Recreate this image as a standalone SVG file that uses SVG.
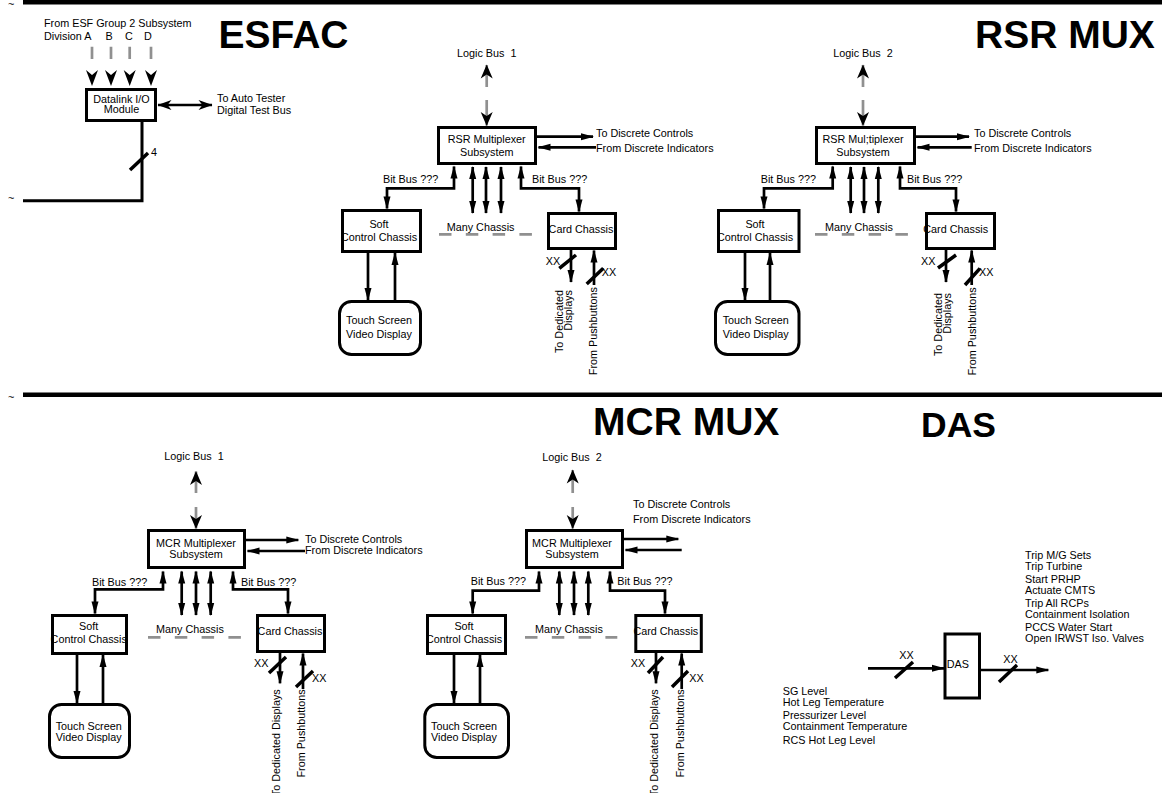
<svg xmlns="http://www.w3.org/2000/svg" width="1162" height="793" viewBox="0 0 1162 793">
<style>
.t{font-family:"Liberation Sans",Arial,Helvetica,sans-serif;font-size:10.8px;fill:#000}
.m{text-anchor:middle}
.e{text-anchor:end}
.h{font-family:"Liberation Sans",Arial,Helvetica,sans-serif;font-weight:bold;font-size:39px;fill:#000}
.box{fill:#fff;stroke:#000;stroke-width:3}
.c{fill:none;stroke:#000;stroke-width:2.7}
.g{fill:none;stroke:#909090;stroke-width:2.7}
.gd{fill:none;stroke:#909090;stroke-width:2.7;stroke-dasharray:12.5 14.3}
.sl{stroke:#000;stroke-width:3.5;fill:none}
.ae{marker-end:url(#a)}
.ab{marker-start:url(#a);marker-end:url(#a)}
.de{marker-end:url(#d)}
.db{marker-start:url(#d2);marker-end:url(#d2)}
</style>
<defs>
<marker id="a" markerUnits="userSpaceOnUse" markerWidth="14" markerHeight="8" refX="12" refY="3.5" orient="auto-start-reverse" overflow="visible"><path d="M0,0 L13,3.5 L0,7 z" fill="#000"/></marker>
<marker id="d" markerUnits="userSpaceOnUse" markerWidth="15" markerHeight="13" refX="13.5" refY="6" orient="auto-start-reverse" overflow="visible"><path d="M0,0 L14,6 L0,12 L4,6 z" fill="#000"/></marker>
<marker id="d2" markerUnits="userSpaceOnUse" markerWidth="15" markerHeight="11" refX="13.5" refY="5" orient="auto-start-reverse" overflow="visible"><path d="M0,0 L14,5 L0,10 L4,5 z" fill="#000"/></marker>
</defs>
<rect width="1162" height="793" fill="#fff"/>

<g id="frame">
<rect x="23" y="0" width="1139" height="4.5" fill="#000"/>
<rect x="23" y="392.5" width="1139" height="4.5" fill="#000"/>
<text class="t" x="8" y="8">~</text>
<text class="t" x="8" y="202">~</text>
<text class="t" x="8" y="401">~</text>
<text class="h" x="218.5" y="48">ESFAC</text>
<text class="h" x="975" y="47.5">RSR MUX</text>
<text class="h" x="593" y="435">MCR MUX</text>
<text class="h" x="921" y="436.7" style="font-size:35.5px">DAS</text>
</g>

<g id="connectors">
<!-- ESFAC -->
<path class="c" d="M142,122 V200.7 H23" style="stroke-width:3"/>
<path class="g" d="M92,46.7 V59 M111,46.7 V59 M129.7,46.7 V59 M151,46.7 V59"/>
<path d="M86,70 L92,86 L98,70 L92,75 z M105,70 L111,86 L117,70 L111,75 z M123.7,70 L129.7,86 L135.7,70 L129.7,75 z M145,70 L151,86 L157,70 L151,75 z" fill="#000"/>
<path class="c db" d="M158,105 H212"/>
<path class="sl" d="M130,170 L148,153"/>

<!-- RSR 1 -->
<path class="g de" d="M486.7,87 V65"/>
<path class="g de" d="M486.7,100 V125.5"/>
<path class="c ae" d="M537,136.7 H593"/>
<path class="c ae" d="M596,147.3 H538.5"/>
<path class="c ab" d="M454,166.5 V188.3 H387 V208.5"/>
<path class="c ab" d="M521,166.5 V188.3 H579 V211.5"/>
<path class="c ab" d="M472.7,167 V213"/>
<path class="c ab" d="M486,167 V213"/>
<path class="c ab" d="M501,167 V213"/>
<path class="c ae" d="M368,253 V300"/>
<path class="c ae" d="M395,300 V253"/>
<path class="c ae" d="M571,250 V282"/>
<path class="c ae" d="M594,285 V250.5"/>
<path class="sl" d="M559.3,268.3 L576,255 M586.7,284 L603.3,268.3"/>
<path class="gd" d="M439,234.3 H532"/>

<!-- RSR 2 -->
<path class="g de" d="M863,87 V65"/>
<path class="g de" d="M863,100 V125.5"/>
<path class="c ae" d="M916,136.7 H969"/>
<path class="c ae" d="M971.7,147.3 H917.5"/>
<path class="c ab" d="M832.7,166.5 V188.3 H764 V208.5"/>
<path class="c ab" d="M900,166.5 V188.3 H956 V211.5"/>
<path class="c ab" d="M850.7,167 V213"/>
<path class="c ab" d="M864,167 V213"/>
<path class="c ab" d="M878.3,167 V213"/>
<path class="c ae" d="M745,253 V300"/>
<path class="c ae" d="M770,300 V253"/>
<path class="c ae" d="M946,250 V282"/>
<path class="c ae" d="M971.7,285 V250.5"/>
<path class="sl" d="M938,268 L956,255 M965,285 L980,268.3"/>
<path class="gd" d="M815,234.3 H908.3"/>

<!-- MCR 1 -->
<path class="g de" d="M196,493 V471.5"/>
<path class="g de" d="M196,507 V528.5"/>
<path class="c ae" d="M246,540 H298.3"/>
<path class="c ae" d="M305,551 H247.5"/>
<path class="c ab" d="M163,571.5 V589.3 H95 V613.5"/>
<path class="c ab" d="M233,571.5 V589.3 H288 V613.5"/>
<path class="c ab" d="M181.7,571.5 V615"/>
<path class="c ab" d="M196,571.5 V615"/>
<path class="c ab" d="M210.7,571.5 V615"/>
<path class="c ae" d="M77,655 V703"/>
<path class="c ae" d="M103,703 V655"/>
<path class="c ae" d="M280,653 V683.3"/>
<path class="c ae" d="M303,689 V653.5"/>
<path class="sl" d="M269,673 L286,657 M296,687 L313,671"/>
<path class="gd" d="M148,637.3 H241.7"/>

<!-- MCR 2 -->
<path class="g de" d="M572.7,493 V470"/>
<path class="g de" d="M572.7,507 V528.5"/>
<path class="c ae" d="M624,539 H678.3"/>
<path class="c ae" d="M681.7,550 H625.5"/>
<path class="c ab" d="M539,571.5 V590.7 H472.7 V613.5"/>
<path class="c ab" d="M610,571.5 V590.7 H665 V613.5"/>
<path class="c ab" d="M559.3,571.5 V615"/>
<path class="c ab" d="M574,571.5 V615"/>
<path class="c ab" d="M588.3,571.5 V615"/>
<path class="c ae" d="M454,655 V703"/>
<path class="c ae" d="M480,703 V655"/>
<path class="c ae" d="M656,653 V683.3"/>
<path class="c ae" d="M681.7,689 V653.5"/>
<path class="sl" d="M648,673 L663,657 M672,687 L688,671"/>
<path class="gd" d="M525,637.3 H617.3"/>

<!-- DAS -->
<path class="c ae" d="M868,668.3 H944"/>
<path class="c ae" d="M981,670 H1048.3"/>
<path class="sl" d="M895,678 L913,662 M999,682 L1017,665"/>
</g>

<g id="labels">
<text class="t" x="44" y="27">From ESF Group 2 Subsystem</text>
<text class="t" x="44" y="40">Division A</text>
<text class="t" x="105.5" y="40">B</text>
<text class="t" x="125" y="40">C</text>
<text class="t" x="144" y="40">D</text>
<text class="t" x="217" y="102.3">To Auto Tester</text>
<text class="t" x="217" y="113.5">Digital Test Bus</text>
<text class="t" x="151" y="156">4</text>

<text class="t m" x="486.7" y="57" xml:space="preserve">Logic Bus  1</text>
<text class="t" x="596" y="137.3">To Discrete Controls</text>
<text class="t" x="596" y="151.5">From Discrete Indicators</text>
<text class="t" x="383" y="183">Bit Bus ???</text>
<text class="t" x="532" y="183">Bit Bus ???</text>
<text class="t" x="446.7" y="230.7">Many Chassis</text>
<text class="t" x="545.7" y="265">XX</text>
<text class="t" x="601.7" y="275.7">XX</text>
<text class="t e" transform="translate(563,290) rotate(-90)">To Dedicated</text>
<text class="t e" transform="translate(572,290) rotate(-90)">Displays</text>
<text class="t e" transform="translate(596.5,287) rotate(-90)">From Pushbuttons</text>

<text class="t m" x="863" y="57" xml:space="preserve">Logic Bus  2</text>
<text class="t" x="974" y="137.3">To Discrete Controls</text>
<text class="t" x="974" y="151.5">From Discrete Indicators</text>
<text class="t" x="760.7" y="183">Bit Bus ???</text>
<text class="t" x="907" y="183">Bit Bus ???</text>
<text class="t" x="825" y="230.7">Many Chassis</text>
<text class="t" x="921" y="265">XX</text>
<text class="t" x="979" y="275.7">XX</text>
<text class="t e" transform="translate(941.5,293) rotate(-90)">To Dedicated</text>
<text class="t e" transform="translate(950.5,293) rotate(-90)">Displays</text>
<text class="t e" transform="translate(976,287.3) rotate(-90)">From Pushbuttons</text>

<text class="t m" x="194" y="460" xml:space="preserve">Logic Bus  1</text>
<text class="t" x="305" y="543.3">To Discrete Controls</text>
<text class="t" x="305" y="554">From Discrete Indicators</text>
<text class="t" x="92" y="585.7">Bit Bus ???</text>
<text class="t" x="241" y="585.7">Bit Bus ???</text>
<text class="t" x="156" y="633.3">Many Chassis</text>
<text class="t" x="254" y="666.7">XX</text>
<text class="t" x="312" y="681.7">XX</text>
<text class="t e" transform="translate(279.5,689.3) rotate(-90)">To Dedicated Displays</text>
<text class="t e" transform="translate(305,689.3) rotate(-90)">From Pushbuttons</text>

<text class="t m" x="572" y="460.7" xml:space="preserve">Logic Bus  2</text>
<text class="t" x="633" y="508">To Discrete Controls</text>
<text class="t" x="633" y="522.5">From Discrete Indicators</text>
<text class="t" x="470.7" y="585">Bit Bus ???</text>
<text class="t" x="617.3" y="585">Bit Bus ???</text>
<text class="t" x="535" y="633">Many Chassis</text>
<text class="t" x="630.7" y="666.7">XX</text>
<text class="t" x="689.3" y="681.7">XX</text>
<text class="t e" transform="translate(657.7,689.3) rotate(-90)">To Dedicated Displays</text>
<text class="t e" transform="translate(684,689.3) rotate(-90)">From Pushbuttons</text>

<text class="t" x="899.3" y="659.3">XX</text>
<text class="t" x="1003.3" y="662.7">XX</text>
<text class="t" x="1025" y="558.5">Trip M/G Sets</text>
<text class="t" x="1025" y="570">Trip Turbine</text>
<text class="t" x="1025" y="582.5">Start PRHP</text>
<text class="t" x="1025" y="593.5">Actuate CMTS</text>
<text class="t" x="1025" y="607">Trip All RCPs</text>
<text class="t" x="1025" y="617.5">Containment Isolation</text>
<text class="t" x="1025" y="631">PCCS Water Start</text>
<text class="t" x="1025" y="642">Open IRWST Iso. Valves</text>
<text class="t" x="782.7" y="695">SG Level</text>
<text class="t" x="782.7" y="706">Hot Leg Temperature</text>
<text class="t" x="782.7" y="719">Pressurizer Level</text>
<text class="t" x="782.7" y="730">Containment Temperature</text>
<text class="t" x="782.7" y="743.5">RCS Hot Leg Level</text>
</g>

<g id="datalink">
<rect class="box" x="86.5" y="89.5" width="69" height="31"/>
<text class="t m" x="121.5" y="103">Datalink I/O</text>
<text class="t m" x="121.5" y="113.3">Module</text>
</g>

<g id="rsr1-mux">
<rect class="box" x="438.5" y="127.5" width="97" height="36"/>
<text class="t m" x="486.7" y="143">RSR Multiplexer</text>
<text class="t m" x="486.7" y="155.5">Subsystem</text>
</g>
<g id="rsr1-soft">
<rect class="box" x="342.5" y="210.5" width="78" height="41"/>
<text class="t m" x="379" y="228">Soft</text>
<text class="t m" x="379" y="241">Control Chassis</text>
</g>
<g id="rsr1-card">
<rect class="box" x="548.5" y="213.5" width="67" height="35"/>
<text class="t m" x="581" y="232.7">Card Chassis</text>
</g>
<g id="rsr1-touch">
<rect class="box" x="339.5" y="301.5" width="81" height="53" rx="12"/>
<text class="t m" x="379" y="324">Touch Screen</text>
<text class="t m" x="379" y="338">Video Display</text>
</g>

<g id="rsr2-mux">
<rect class="box" x="816.5" y="127.5" width="98" height="36"/>
<text class="t m" x="863" y="143">RSR Mul;tiplexer</text>
<text class="t m" x="863" y="155.5">Subsystem</text>
</g>
<g id="rsr2-soft">
<rect class="box" x="718.5" y="210.5" width="80.5" height="41"/>
<text class="t m" x="755" y="228">Soft</text>
<text class="t m" x="755" y="241">Control Chassis</text>
</g>
<g id="rsr2-card">
<rect class="box" x="926.5" y="213.5" width="68" height="35"/>
<text class="t m" x="955.7" y="232.7">Card Chassis</text>
</g>
<g id="rsr2-touch">
<rect class="box" x="715.5" y="301.5" width="83.5" height="53" rx="12"/>
<text class="t m" x="755.7" y="324">Touch Screen</text>
<text class="t m" x="755.7" y="338">Video Display</text>
</g>

<g id="mcr1-mux">
<rect class="box" x="148.5" y="530.5" width="96" height="37"/>
<text class="t m" x="196" y="546.7">MCR Multiplexer</text>
<text class="t m" x="196" y="558">Subsystem</text>
</g>
<g id="mcr1-soft">
<rect class="box" x="52.5" y="615.5" width="74" height="38"/>
<text class="t m" x="88.7" y="630">Soft</text>
<text class="t m" x="88.7" y="643.3">Control Chassis</text>
</g>
<g id="mcr1-card">
<rect class="box" x="257.5" y="615.5" width="67" height="36"/>
<text class="t m" x="290" y="635">Card Chassis</text>
</g>
<g id="mcr1-touch">
<rect class="box" x="49.5" y="704.5" width="80" height="53" rx="12"/>
<text class="t m" x="88.7" y="730">Touch Screen</text>
<text class="t m" x="88.7" y="740.7">Video Display</text>
</g>

<g id="mcr2-mux">
<rect class="box" x="526.5" y="530.5" width="96" height="37"/>
<text class="t m" x="572" y="546.5">MCR Multiplexer</text>
<text class="t m" x="572" y="558">Subsystem</text>
</g>
<g id="mcr2-soft">
<rect class="box" x="427.5" y="615.5" width="78" height="38"/>
<text class="t m" x="464" y="630">Soft</text>
<text class="t m" x="464" y="642.7">Control Chassis</text>
</g>
<g id="mcr2-card">
<rect class="box" x="635.8" y="615.5" width="65.5" height="36"/>
<text class="t m" x="665.8" y="635">Card Chassis</text>
</g>
<g id="mcr2-touch">
<rect class="box" x="424.8" y="704.5" width="83.7" height="53" rx="12"/>
<text class="t m" x="464" y="730">Touch Screen</text>
<text class="t m" x="464" y="740.7">Video Display</text>
</g>

<g id="das">
<rect class="box" x="945" y="634" width="34.5" height="64"/>
<text class="t" x="946.7" y="668.3">DAS</text>
</g>
</svg>
